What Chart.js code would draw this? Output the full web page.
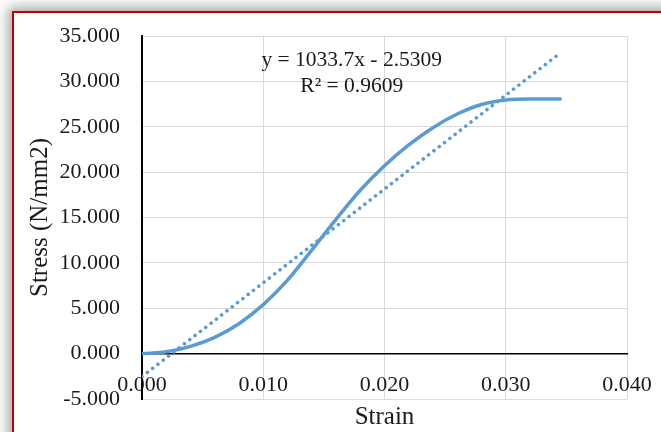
<!DOCTYPE html>
<html>
<head>
<meta charset="utf-8">
<script src="https://cdn.jsdelivr.net/npm/chart.js@4/dist/chart.umd.min.js"></script>
<style>
    body { margin: 0; width: 661px; height: 432px; overflow: hidden; background: #fff; position: relative; }
    #frame {
        position: absolute; left: 12px; top: 11px; width: 700px; height: 480px;
        border-left: 2px solid #c00000; border-top: 2px solid #c00000;
        box-shadow: 0 0 12px 4px rgba(0, 0, 0, 0.35);
        background: #fff;
    }
    #stressChart { position: absolute; left: 0; top: 0; }
</style>
</head>
<body>
<div id="frame"></div>
<canvas id="stressChart" width="661" height="432"></canvas>
<script>
// số liệu
const strain = [0, 0.002, 0.004, 0.006, 0.008, 0.010, 0.012, 0.014, 0.016, 0.018,
                0.020, 0.022, 0.024, 0.026, 0.028, 0.030, 0.032, 0.0345];
const stress = [0.00, 0.20, 0.80, 1.80, 3.30, 5.40, 8.10, 11.40, 14.80, 18.00,
                20.70, 23.00, 24.90, 26.40, 27.45, 27.95, 28.05, 28.05];

// đường xu hướng (2 đầu mút)
const trendX = [0.000, 0.0342];
const trendY = [-2.53, 32.82];

const eqLines = ['y = 1033.7x - 2.5309', 'R² = 0.9609'];
const eqX = 0.0173;
const eqY = [32.3, 29.4];

const xTicks = [0, 0.01, 0.02, 0.03, 0.04];
const yTicks = [-5, 0, 5, 10, 15, 20, 25, 30, 35];

const FONT = "'Liberation Serif', serif";
const TXT = '#1a1a1a';
const BLUE = '#5b9bd5';

const equationLabel = {
    id: 'equationLabel',
    afterDraw(chart) {
        const ctx = chart.ctx;
        ctx.save();
        ctx.font = `21.5px ${FONT}`;
        ctx.fillStyle = TXT;
        ctx.textAlign = 'center';
        ctx.textBaseline = 'middle';
        eqLines.forEach((t, i) => {
            ctx.fillText(t, chart.scales.x.getPixelForValue(eqX), chart.scales.y.getPixelForValue(eqY[i]));
        });
        ctx.restore();
    }
};

const ctx = document.getElementById('stressChart').getContext('2d');
new Chart(ctx, {
    type: 'scatter',
    data: {
        datasets: [
            {
                data: strain.map((v, i) => ({ x: v, y: stress[i] })),
                showLine: true,
                borderColor: BLUE,
                borderWidth: 3.5,
                pointRadius: 0,
                cubicInterpolationMode: 'monotone',
                borderCapStyle: 'round'
            },
            {
                data: trendX.map((v, i) => ({ x: v, y: trendY[i] })),
                showLine: true,
                borderColor: BLUE,
                borderWidth: 3.6,
                borderDash: [0.01, 6.7],
                borderCapStyle: 'round',
                pointRadius: 0
            }
        ]
    },
    options: {
        responsive: false,
        animation: false,
        layout: { padding: { left: 0, top: 36, right: 34, bottom: 0 } },
        plugins: {
            legend: { display: false },
            tooltip: { enabled: false }
        },
        scales: {
            x: {
                type: 'linear',
                min: 0, max: 0.04,
                position: 'bottom',
                ticks: { display: false, stepSize: 0.01 },
                grid: { color: '#d9d9d9', drawTicks: false },
                border: { display: false },
                title: {
                    display: true, text: 'Strain', color: TXT,
                    font: { family: FONT, size: 25 },
                    padding: { top: 0, bottom: 0 }
                },
                afterFit: s => { s.height = 33; s.paddingLeft = 0; s.paddingRight = 0; }
            },
            x2: {
                type: 'linear',
                min: 0, max: 0.04,
                position: { y: 0 },
                afterBuildTicks: s => { s.ticks = xTicks.map(v => ({ value: v })); },
                ticks: {
                    callback: v => v.toFixed(3),
                    padding: 18, maxRotation: 0, autoSkip: false,
                    color: TXT, font: { family: FONT, size: 22 }
                },
                grid: { display: false, drawTicks: false },
                border: { color: '#000', width: 1.5 },
                afterFit: s => { s.paddingLeft = 0; s.paddingRight = 0; }
            },
            y: {
                type: 'linear',
                min: -5, max: 35,
                afterBuildTicks: s => { s.ticks = yTicks.map(v => ({ value: v })); },
                ticks: {
                    callback: v => v.toFixed(3),
                    padding: 22, color: TXT,
                    font: { family: FONT, size: 22 }
                },
                grid: { color: '#d9d9d9', drawTicks: false },
                border: { color: '#000', width: 2 },
                title: {
                    display: true, text: 'Stress (N/mm2)', color: TXT,
                    font: { family: FONT, size: 25 },
                    padding: { top: 25, bottom: 0 }
                },
                afterFit: s => { s.width = 142; s.paddingTop = 0; s.paddingBottom = 0; }
            }
        }
    },
    plugins: [equationLabel]
});
</script>
</body>
</html>
